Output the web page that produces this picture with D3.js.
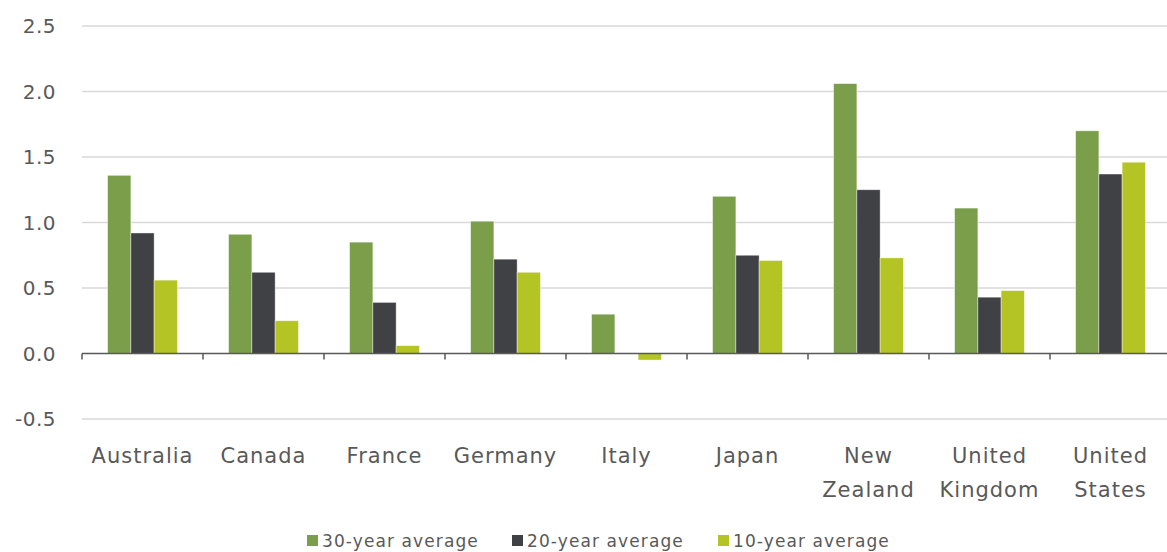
<!DOCTYPE html>
<html>
<head>
<meta charset="utf-8">
<script src="https://cdn.jsdelivr.net/npm/d3@7"></script>
<style>
  body { margin: 0; background: #fff; }
  text { font-family: "DejaVu Sans", "Liberation Sans", Arial, sans-serif; }
</style>
</head>
<body>
<svg id="chart" width="1167" height="552"></svg>
<script>
    var countries = ["Australia", "Canada", "France", "Germany", "Italy", "Japan", "New Zealand", "United Kingdom", "United States"];
    var seriesNames = ["30-year average", "20-year average", "10-year average"];
    var avg30 = [1.36, 0.91, 0.85, 1.01, 0.30, 1.20, 2.06, 1.11, 1.70];
    var avg20 = [0.92, 0.62, 0.39, 0.72, 0.00, 0.75, 1.25, 0.43, 1.37];
    var avg10 = [0.56, 0.25, 0.06, 0.62, -0.05, 0.71, 0.73, 0.48, 1.46];
    var yTicks = [-0.5, 0, 0.5, 1.0, 1.5, 2.0, 2.5];
    var colors = ["#7a9e4a", "#404145", "#b5c425"];

    var series = [avg30, avg20, avg10];

    var svg = d3.select("#chart");

    var xScale = d3.scaleBand().domain(countries).range([82, 1171]).paddingInner(0).paddingOuter(0);
    var xInner = d3.scaleBand().domain(seriesNames).range([0, xScale.bandwidth()]).paddingOuter(1.1).paddingInner(0);
    var yScale = d3.scaleLinear().domain([-0.5, 2.5]).range([419, 26]);

    // gridlines
    svg.append("g")
      .selectAll("line")
      .data(yTicks.filter(d => d !== 0))
      .join("line")
      .attr("x1", 82)
      .attr("x2", 1167)
      .attr("y1", d => yScale(d))
      .attr("y2", d => yScale(d))
      .attr("stroke", "#d9d9d9")
      .attr("stroke-width", 1.5);

    // y labels
    svg.append("g")
      .selectAll("text")
      .data(yTicks)
      .join("text")
      .attr("x", 56)
      .attr("y", d => yScale(d))
      .attr("dy", "0.35em")
      .attr("text-anchor", "end")
      .attr("fill", "#595959")
      .style("font-size", "20px")
      .style("letter-spacing", "0.5px")
      .text(d => d3.format(".1f")(d).replace("\u2212", "-"));

    // bars
    svg.append("g")
      .selectAll("g")
      .data(series)
      .join("g")
      .attr("fill", (d, i) => colors[i])
      .each(function(vals, si) {
        d3.select(this).selectAll("rect")
          .data(vals)
          .join("rect")
          .attr("x", (v, ci) => xScale(countries[ci]) + xInner(seriesNames[si]))
          .attr("width", xInner.bandwidth())
          .attr("y", v => yScale(Math.max(0, v)))
          .attr("height", v => Math.abs(yScale(v) - yScale(0)))
          .attr("stroke", "#ffffff")
          .attr("stroke-opacity", 0.5)
          .attr("stroke-width", 0.8);
      });

    // zero axis with ticks between categories
    var axis = svg.append("g");
    axis.append("line")
      .attr("x1", 82)
      .attr("x2", 1167)
      .attr("y1", yScale(0))
      .attr("y2", yScale(0))
      .attr("stroke", "#595959")
      .attr("stroke-width", 1.5);
    axis.selectAll("line.tick")
      .data(countries)
      .join("line")
      .attr("class", "tick")
      .attr("x1", d => xScale(d))
      .attr("x2", d => xScale(d))
      .attr("y1", yScale(0))
      .attr("y2", yScale(0) + 6)
      .attr("stroke", "#595959")
      .attr("stroke-width", 1.5);

    // category labels (wrap two-word names onto two lines)
    svg.append("g")
      .selectAll("text")
      .data(countries)
      .join("text")
      .attr("x", d => xScale(d) + xScale.bandwidth() / 2)
      .attr("y", 463)
      .attr("text-anchor", "middle")
      .attr("fill", "#595959")
      .style("font-size", "21px")
      .style("letter-spacing", "1px")
      .each(function(d) {
        var words = d.split(" ");
        d3.select(this).selectAll("tspan")
          .data(words)
          .join("tspan")
          .attr("x", xScale(d) + xScale.bandwidth() / 2)
          .attr("dy", (w, i) => i === 0 ? 0 : 34)
          .text(w => w);
      });

    // legend
    var legendX = [307, 512, 718];
    var legend = svg.append("g")
      .selectAll("g")
      .data(seriesNames)
      .join("g")
      .attr("transform", (d, i) => "translate(" + legendX[i] + ",541)");
    legend.append("rect")
      .attr("x", 0)
      .attr("y", -6)
      .attr("width", 11)
      .attr("height", 11)
      .attr("fill", (d, i) => colors[i]);
    legend.append("text")
      .attr("x", 15)
      .attr("y", 0)
      .attr("dy", "0.35em")
      .attr("fill", "#595959")
      .style("font-size", "17px")
      .style("letter-spacing", "1.1px")
      .text(d => d);
</script>
</body>
</html>
